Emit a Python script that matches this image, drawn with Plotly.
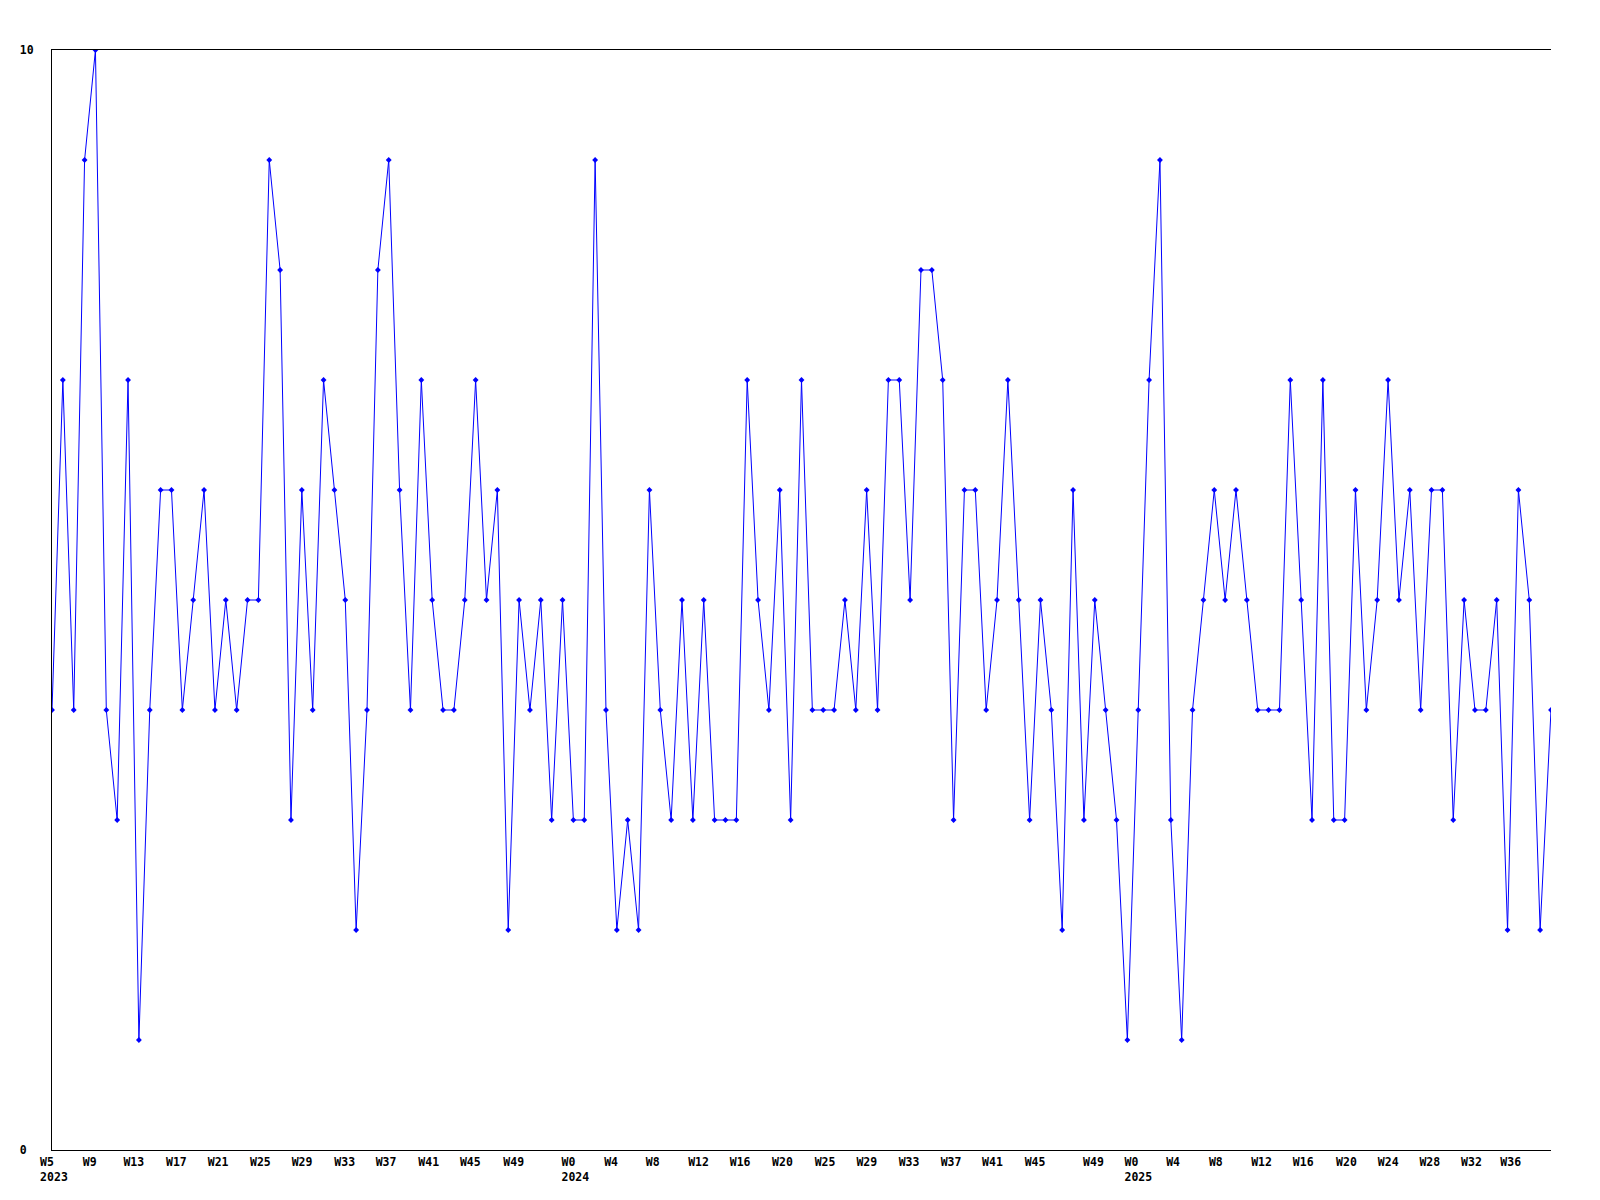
import plotly.graph_objects as go

# weekly counts, 2023 W5 .. 2025 W38
values = [
    4, 7, 4, 9, 10, 4, 3, 7, 1, 4, 6, 6, 4, 5, 6, 4, 5, 4, 5, 5, 9, 8, 3,
    6, 4, 7, 6, 5, 2, 4, 8, 9, 6, 4, 7, 5, 4, 4, 5, 7, 5, 6, 2, 5, 4, 5, 3,
    5, 3, 3, 9, 4, 2, 3, 2, 6, 4, 3, 5, 3, 5, 3, 3, 3, 7, 5, 4, 6, 3, 7, 4,
    4, 4, 5, 4, 6, 4, 7, 7, 5, 8, 8, 7, 3, 6, 6, 4, 5, 7, 5, 3, 5, 4, 2, 6,
    3, 5, 4, 3, 1, 4, 7, 9, 3, 1, 4, 5, 6, 5, 6, 5, 4, 4, 4, 7, 5, 3, 7, 3,
    3, 6, 4, 5, 7, 5, 6, 4, 6, 6, 3, 5, 4, 4, 5, 2, 6, 5, 2, 4,
]
week_index = list(range(len(values)))

tick_weeks = [
    "W5", "W9", "W13", "W17", "W21", "W25", "W29", "W33", "W37", "W41", "W45", "W49",
    "W0", "W4", "W8", "W12", "W16", "W20", "W25", "W29", "W33", "W37", "W41", "W45", "W49",
    "W0", "W4", "W8", "W12", "W16", "W20", "W24", "W28", "W32", "W36",
]
tick_years = {0: "2023", 12: "2024", 25: "2025"}
tick_pos = [
    0.24, 4.17, 7.91, 11.83, 15.67, 19.56, 23.40, 27.33, 31.13, 35.06, 38.89, 42.88,
    48.24, 52.17, 56.00, 59.90, 63.73, 67.63, 71.55, 75.39, 79.28, 83.15, 86.96, 90.88, 96.26,
    100.07, 103.91, 107.84, 111.73, 115.57, 119.55, 123.39, 127.22, 131.06, 134.67,
]
tick_text = [
    w + ("<br>" + tick_years[i] if i in tick_years else "")
    for i, w in enumerate(tick_weeks)
]

FONT = dict(family="DejaVu Sans Mono", size=11.5, color="black", weight="bold")

fig = go.Figure()
fig.add_trace(
    go.Scatter(
        x=week_index,
        y=values,
        mode="lines+markers",
        line=dict(color="#0000ff", width=1),
        marker=dict(symbol="diamond", size=4.5, color="#0000ff"),
        showlegend=False,
    )
)
# page body adds 8px, so margins are trimmed by that much
fig.update_layout(
    width=1600,
    height=1200,
    margin=dict(l=42, r=57, t=42, b=58),
    plot_bgcolor="white",
    paper_bgcolor="white",
    font=FONT,
    xaxis=dict(
        range=[0, len(values) - 1],
        tickmode="array",
        tickvals=tick_pos,
        ticktext=tick_text,
        ticklabelposition="outside right",
        ticklabelshift=-15,
        ticklabelstandoff=1,
        showgrid=False,
        zeroline=False,
        showline=True,
        mirror=True,
        linecolor="black",
        linewidth=1,
        ticks="",
        tickfont=FONT,
    ),
    yaxis=dict(
        range=[0, 10],
        tickmode="array",
        tickvals=[0, 10],
        ticktext=["0\u00a0", "10"],
        ticklabelstandoff=15,
        showgrid=False,
        zeroline=False,
        showline=True,
        linecolor="black",
        linewidth=1,
        ticks="",
        tickfont=FONT,
    ),
)
fig.write_html("out.html")
